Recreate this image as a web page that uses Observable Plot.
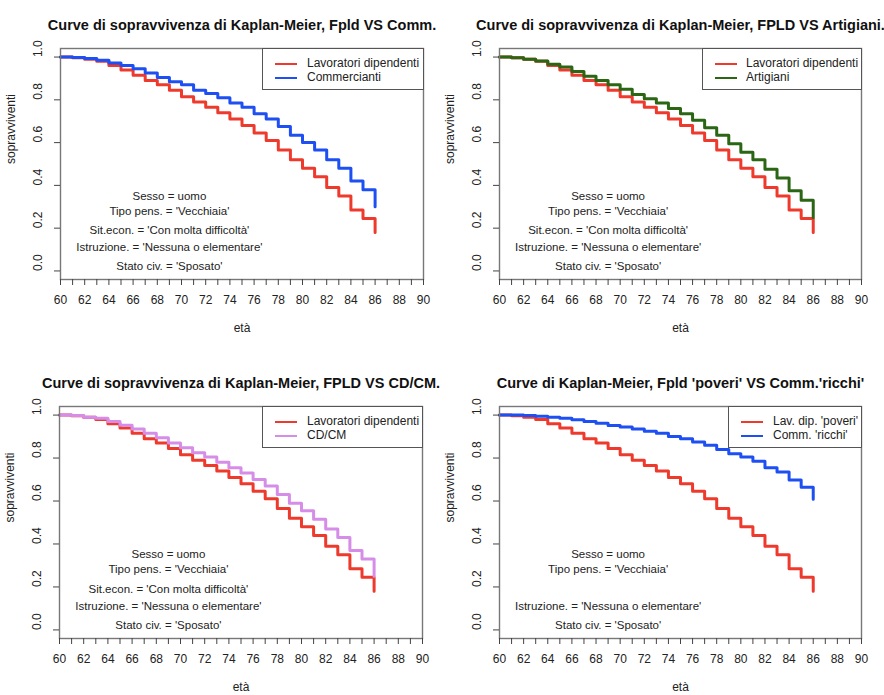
<!DOCTYPE html>
<html>
<head>
<meta charset="utf-8">
<script src="https://cdn.jsdelivr.net/npm/d3@7"></script>
<script src="https://cdn.jsdelivr.net/npm/@observablehq/plot@0.6"></script>
<style>
  html, body { margin: 0; padding: 0; background: #fff; }
  #wrap { position: relative; width: 884px; height: 695px; overflow: hidden; background: #fff;
          font-family: "Liberation Sans", Arial, sans-serif; color: #222; }
  .panel { position: absolute; }
  .legend { position: absolute; border: 1px solid #555; background: #fff; box-sizing: border-box;
            font-size: 12px; line-height: 14px; }
  .legend .row { position: absolute; white-space: nowrap; }
  .legend .sw { position: absolute; height: 2px; }
</style>
</head>
<body>
<div id="wrap"></div>
<script>
// ---- data ----
const ages = d3.range(60, 87); // 60..86
const lavDip   = [1.0, 0.997, 0.99, 0.98, 0.96, 0.94, 0.915, 0.89, 0.87, 0.845, 0.815, 0.79, 0.765, 0.74, 0.71, 0.68, 0.645, 0.61, 0.565, 0.52, 0.48, 0.44, 0.39, 0.35, 0.285, 0.245, 0.18];
const commerc  = [1.0, 0.998, 0.993, 0.985, 0.972, 0.96, 0.945, 0.925, 0.905, 0.885, 0.87, 0.845, 0.83, 0.81, 0.785, 0.765, 0.735, 0.71, 0.675, 0.635, 0.60, 0.565, 0.52, 0.48, 0.42, 0.38, 0.30];
const artigiani= [1.0, 0.997, 0.99, 0.982, 0.966, 0.953, 0.932, 0.91, 0.89, 0.87, 0.85, 0.825, 0.805, 0.785, 0.76, 0.735, 0.705, 0.67, 0.635, 0.595, 0.555, 0.52, 0.475, 0.435, 0.375, 0.33, 0.25];
const cdcm     = [1.0, 0.998, 0.99, 0.985, 0.97, 0.953, 0.935, 0.915, 0.895, 0.87, 0.848, 0.825, 0.805, 0.78, 0.755, 0.73, 0.70, 0.67, 0.63, 0.59, 0.555, 0.515, 0.47, 0.43, 0.37, 0.33, 0.25];
const commRicchi=[1.0, 1.0, 0.998, 0.995, 0.99, 0.985, 0.978, 0.97, 0.962, 0.952, 0.945, 0.935, 0.925, 0.915, 0.90, 0.89, 0.875, 0.86, 0.84, 0.82, 0.805, 0.785, 0.755, 0.735, 0.698, 0.664, 0.608];

const xTicks = d3.range(60, 91);
const yTicks = [0, 0.2, 0.4, 0.6, 0.8, 1.0];

const annotX = 69;
const annotFull = ["Sesso = uomo", "Tipo pens. = 'Vecchiaia'", "Sit.econ. = 'Con molta difficoltà'", "Istruzione. = 'Nessuna o elementare'", "Stato civ. = 'Sposato'"];
const annotFullY = [0.35, 0.28, 0.19, 0.11, 0.02];
const annotPoor = ["Sesso = uomo", "Tipo pens. = 'Vecchiaia'", "Istruzione. = 'Nessuna o elementare'", "Stato civ. = 'Sposato'"];
const annotPoorY = [0.35, 0.28, 0.11, 0.02];

const titles = [
  "Curve di sopravvivenza di Kaplan-Meier, Fpld VS Comm.",
  "Curve di sopravvivenza di Kaplan-Meier, FPLD VS Artigiani.",
  "Curve di sopravvivenza di Kaplan-Meier, FPLD VS CD/CM.",
  "Curve di Kaplan-Meier, Fpld 'poveri' VS Comm.'ricchi'"
];

const RED = "#ee3a2c", BLUE = "#1e4ff2", GREEN = "#2a6614", VIOLET = "#d68de8";

const panels = [
  { left: 0, top: 0, h: 347, m: [48, 19, 68, 60], title: titles[0],
    series: [{name: "Lavoratori dipendenti", v: lavDip, c: RED}, {name: "Commercianti", v: commerc, c: BLUE}],
    annot: annotFull, annotY: annotFullY, leg: {x: 262, y: 48, w: 162, h: 42, sx: 12, tx: 44} },
  { left: 442, top: 0, h: 347, m: [48, 23, 68, 57], title: titles[1],
    series: [{name: "Lavoratori dipendenti", v: lavDip, c: RED}, {name: "Artigiani", v: artigiani, c: GREEN}],
    annot: annotFull, annotY: annotFullY, leg: {x: 260, y: 48, w: 160, h: 42, sx: 12, tx: 43} },
  { left: 0, top: 347, h: 348, m: [59, 20, 57, 59], title: titles[2],
    series: [{name: "Lavoratori dipendenti", v: lavDip, c: RED}, {name: "CD/CM", v: cdcm, c: VIOLET}],
    annot: annotFull, annotY: annotFullY, leg: {x: 262, y: 59, w: 161, h: 42, sx: 12, tx: 44} },
  { left: 442, top: 347, h: 348, m: [59, 23, 57, 57], title: titles[3],
    series: [{name: "Lav. dip. 'poveri'", v: lavDip, c: RED}, {name: "Comm. 'ricchi'", v: commRicchi, c: BLUE}],
    annot: annotPoor, annotY: annotPoorY, leg: {x: 286, y: 59, w: 134, h: 42, sx: 12, tx: 44} }
];

const wrap = document.getElementById("wrap");

for (const p of panels) {
  const [mt, mr, mb, ml] = p.m;
  const lineMarks = p.series.map(s =>
    Plot.line(ages.map((a, i) => ({age: a, surv: s.v[i]})),
      {x: "age", y: "surv", stroke: s.c, strokeWidth: 3, curve: "step-after"}));
  const chart = Plot.plot({
    width: 442, height: p.h,
    marginTop: mt, marginRight: mr, marginBottom: mb, marginLeft: ml,
    style: {fontFamily: "'Liberation Sans', Arial, sans-serif", fontSize: "12px", color: "#222", background: "#fff", overflow: "visible"},
    x: {domain: [60, 90], axis: null},
    y: {domain: [-0.04, 1.04], axis: null},
    marks: [
      ...lineMarks,
      Plot.frame({stroke: "#777", strokeWidth: 1.4}),
      Plot.axisX({ticks: xTicks, tickSize: 6, tickPadding: 10, tickFormat: d => (d % 2 ? "" : String(d)), label: null, fontSize: 12, stroke: "#444"}),
      Plot.axisY({ticks: yTicks, tickSize: 6, tickFormat: () => "", label: null, stroke: "#444"}),
      Plot.text(yTicks, {y: d => d, text: d => d.toFixed(1), frameAnchor: "left", dx: -22, rotate: -90, fontSize: 12}),
      Plot.text(["sopravviventi"], {frameAnchor: "left", dx: -49, rotate: -90, fontSize: 12}),
      Plot.text(["età"], {frameAnchor: "bottom", dy: 52, fontSize: 12}),
      Plot.text([p.title], {frameAnchor: "top", dy: -29, fontSize: 14.5, fontWeight: "bold", fill: "#111"}),
      Plot.text(p.annot, {x: () => annotX, y: (d, i) => p.annotY[i], text: d => d, fontSize: 11.5})
    ]
  });
  const div = document.createElement("div");
  div.className = "panel";
  div.style.left = p.left + "px";
  div.style.top = p.top + "px";
  div.style.width = "442px";
  div.style.height = p.h + "px";
  div.appendChild(chart);

  const lg = document.createElement("div");
  lg.className = "legend";
  lg.style.left = p.leg.x + "px"; lg.style.top = p.leg.y + "px";
  lg.style.width = p.leg.w + "px"; lg.style.height = p.leg.h + "px";
  p.series.forEach((s, i) => {
    const sw = document.createElement("div");
    sw.className = "sw";
    sw.style.left = p.leg.sx + "px"; sw.style.width = "22px";
    sw.style.top = (14 + i * 14) + "px"; sw.style.background = s.c;
    lg.appendChild(sw);
    const t = document.createElement("div");
    t.className = "row";
    t.style.left = p.leg.tx + "px"; t.style.top = (7 + i * 14) + "px";
    t.textContent = s.name;
    lg.appendChild(t);
  });
  div.appendChild(lg);
  wrap.appendChild(div);
}
</script>
</body>
</html>
